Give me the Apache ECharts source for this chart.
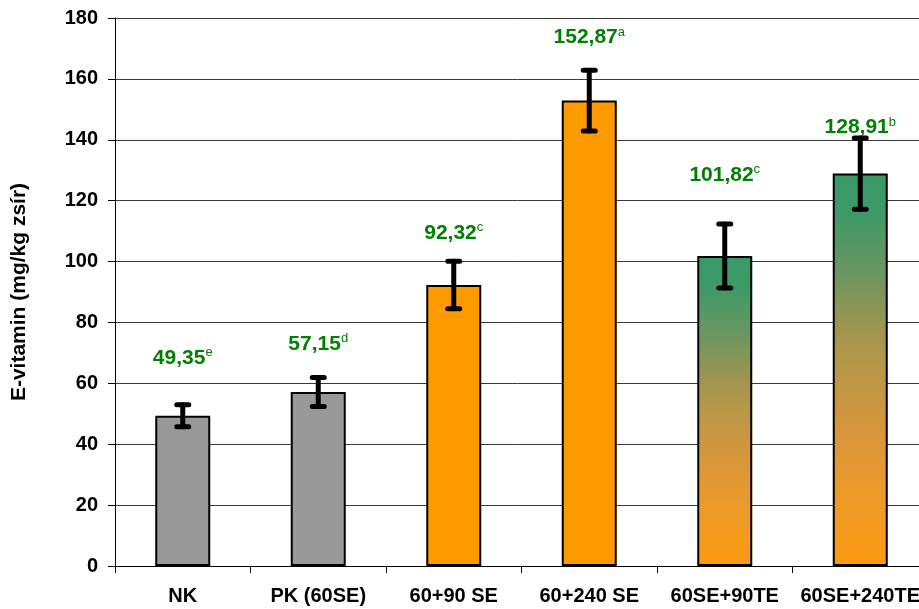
<!DOCTYPE html>
<html>
<head>
<meta charset="utf-8">
<script src="https://cdn.jsdelivr.net/npm/echarts@6/dist/echarts.min.js"></script>
<style>
  html, body { margin: 0; padding: 0; background: #fff; }
  #chart { width: 919px; height: 609px; }
</style>
</head>
<body>
<div id="chart"></div>
<script>
// E-vitamin content per treatment, with standard deviation and significance letters
const categories = ['NK', 'PK (60SE)', '60+90 SE', '60+240 SE', '60SE+90TE', '60SE+240TE'];
const means = [49.35, 57.15, 92.32, 152.87, 101.82, 128.91];
const deviations = [3.6, 4.8, 7.8, 10.0, 10.5, 11.7];
const letters = ['e', 'd', 'c', 'a', 'c', 'b'];
const yMin = 0, yMax = 180, yStep = 20;

// fill style per treatment group
const GREY = '#999999';
const ORANGE = '#FF9900';
const gradientFill = new echarts.graphic.LinearGradient(0, 0, 0, 1, [
  { offset: 0, color: '#389968' },
  { offset: 0.1, color: '#3d9a67' },
  { offset: 0.25, color: '#6a9660' },
  { offset: 0.4, color: '#a09550' },
  { offset: 0.5, color: '#b99848' },
  { offset: 0.65, color: '#d7963c' },
  { offset: 0.8, color: '#eb9a2c' },
  { offset: 1, color: '#fd9a10' }
]);
const fills = [GREY, GREY, ORANGE, ORANGE, gradientFill, gradientFill];

// vertical pixel distance of each value label above its bar top
const labelLift = [58, 48, 52, 63, 81, 46];

const FONT = '"Liberation Sans", Arial, sans-serif';

const chart = echarts.init(document.getElementById('chart'), null, { renderer: 'canvas' });

const fmt = v => v.toFixed(2).replace('.', ',');

chart.setOption({
  animation: false,
  backgroundColor: '#ffffff',
  // the plot runs slightly past the right edge of the canvas
  grid: { left: 115, top: 18, width: 813, height: 548, containLabel: false, outerBoundsMode: 'none' },
  xAxis: {
    type: 'category',
    data: categories,
    axisLine: { lineStyle: { color: '#000', width: 1 } },
    axisTick: { show: true, interval: 0, length: 7, lineStyle: { color: '#000' } },
    axisLabel: {
      interval: 0,
      margin: 20,
      color: '#000',
      fontFamily: FONT,
      fontWeight: 'bold',
      fontSize: 20
    },
    splitLine: { show: false }
  },
  yAxis: {
    type: 'value',
    min: yMin,
    max: yMax,
    interval: yStep,
    name: 'E-vitamin (mg/kg zsír)',
    nameLocation: 'middle',
    nameGap: 85,
    nameRotate: 90,
    nameTextStyle: {
      color: '#000',
      fontFamily: FONT,
      fontWeight: 'bold',
      fontSize: 21
    },
    axisLine: { show: true, lineStyle: { color: '#000', width: 1 } },
    axisTick: { show: true, length: 7, lineStyle: { color: '#000' } },
    axisLabel: {
      margin: 17,
      color: '#000',
      fontFamily: FONT,
      fontWeight: 'bold',
      fontSize: 20
    },
    splitLine: { show: true, lineStyle: { color: '#3a3a3a', width: 1 } }
  },
  series: [
    {
      type: 'bar',
      barWidth: 55,
      data: means.map((v, i) => ({
        value: v,
        itemStyle: { color: fills[i], borderColor: '#000', borderWidth: 2 }
      })),
      z: 2
    },
    {
      type: 'custom',
      z: 5,
      data: means.map((v, i) => [i, v, deviations[i]]),
      renderItem: function (params, api) {
        const i = api.value(0);
        const m = api.value(1);
        const d = api.value(2);
        const top = api.coord([i, m + d]);
        const bot = api.coord([i, m - d]);
        const mid = api.coord([i, m]);
        const cap = 6;
        const lineStyle = { stroke: '#000', lineWidth: 5, lineCap: 'round' };
        return {
          type: 'group',
          children: [
            { type: 'line', shape: { x1: top[0], y1: top[1], x2: bot[0], y2: bot[1] }, style: lineStyle },
            { type: 'line', shape: { x1: top[0] - cap, y1: top[1], x2: top[0] + cap, y2: top[1] }, style: lineStyle },
            { type: 'line', shape: { x1: bot[0] - cap, y1: bot[1], x2: bot[0] + cap, y2: bot[1] }, style: lineStyle },
            {
              type: 'text',
              x: mid[0],
              y: mid[1] - labelLift[i],
              style: {
                text: '{v|' + fmt(m) + '}{s|' + letters[i] + '}',
                align: 'center',
                verticalAlign: 'middle',
                rich: {
                  v: { fontFamily: FONT, fontWeight: 'bold', fontSize: 21, lineHeight: 24, fill: '#008000', color: '#008000' },
                  s: { fontFamily: FONT, fontWeight: 'normal', fontSize: 13, lineHeight: 14, verticalAlign: 'top', fill: '#008000', color: '#008000' }
                }
              }
            }
          ]
        };
      }
    }
  ]
});
</script>
</body>
</html>
